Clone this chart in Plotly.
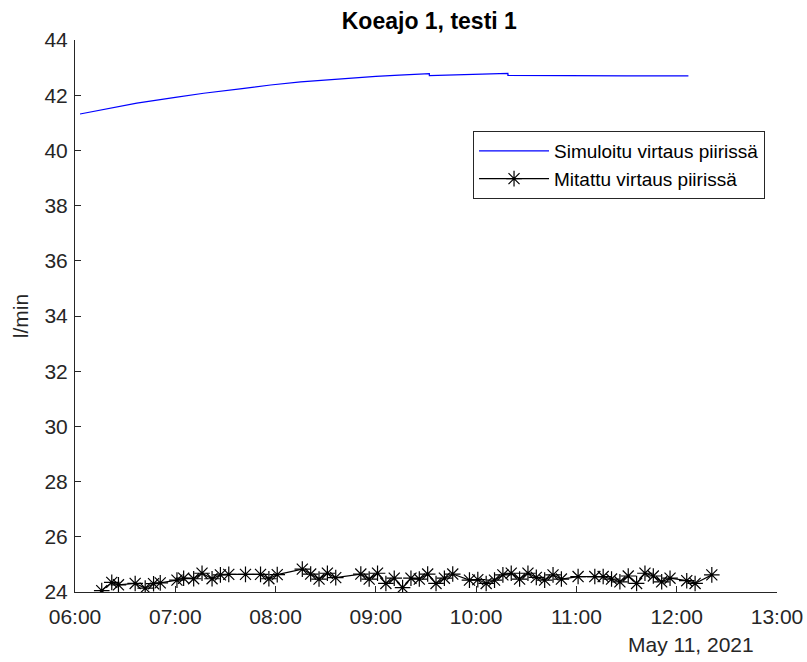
import plotly.graph_objects as go

DAY = "2021-05-11 "

# Simulated flow (blue)
sim_time = ["06:03", "06:20", "06:37", "07:00", "07:17", "07:40", "07:57", "08:15",
            "08:36", "09:00", "09:14", "09:32", "09:32", "09:50", "10:05", "10:19",
            "10:19", "10:40", "11:00", "11:30", "12:07"]
sim_vals = [41.32, 41.52, 41.71, 41.92, 42.07, 42.24, 42.37, 42.48,
            42.58, 42.68, 42.73, 42.78, 42.71, 42.74, 42.77, 42.79,
            42.72, 42.71, 42.71, 42.70, 42.70]

# Measured flow (black, asterisks)
meas_time = ["06:16", "06:22", "06:26", "06:36", "06:42", "06:47", "06:51", "07:01",
             "07:05", "07:11", "07:16", "07:22", "07:27", "07:32", "07:42", "07:51",
             "07:56", "08:01", "08:16", "08:21", "08:26", "08:31", "08:36", "08:51",
             "08:56", "09:01", "09:06", "09:11", "09:16", "09:21", "09:26", "09:31",
             "09:36", "09:41", "09:46", "09:56", "10:01", "10:06", "10:11", "10:16",
             "10:21", "10:26", "10:31", "10:36", "10:41", "10:46", "10:51", "11:01",
             "11:11", "11:16", "11:21", "11:26", "11:31", "11:36", "11:41", "11:46",
             "11:51", "11:56", "12:06", "12:11", "12:21"]
meas_vals = [24.05, 24.35, 24.26, 24.31, 24.14, 24.30, 24.33, 24.43,
             24.50, 24.48, 24.68, 24.48, 24.62, 24.64, 24.64, 24.64,
             24.48, 24.63, 24.83, 24.65, 24.47, 24.68, 24.52, 24.65,
             24.47, 24.68, 24.31, 24.50, 24.16, 24.50, 24.47, 24.65,
             24.31, 24.50, 24.65, 24.43, 24.45, 24.31, 24.43, 24.62,
             24.68, 24.47, 24.68, 24.53, 24.43, 24.62, 24.47, 24.56,
             24.56, 24.56, 24.47, 24.37, 24.58, 24.31, 24.68, 24.58,
             24.37, 24.50, 24.41, 24.31, 24.62]

x_ticks = ["06:00", "07:00", "08:00", "09:00", "10:00", "11:00", "12:00", "13:00"]

AX = "#262626"
FONT = "Liberation Sans, Arial, sans-serif"

fig = go.Figure()
fig.add_trace(go.Scatter(
    x=[DAY + t for t in sim_time], y=sim_vals, mode="lines",
    line=dict(color="#0000ff", width=1.2),
    name="Simuloitu virtaus piirissä"))
fig.add_trace(go.Scatter(
    x=[DAY + t for t in meas_time], y=meas_vals, mode="lines+markers",
    line=dict(color="black", width=1.2),
    marker=dict(symbol="asterisk-open", size=13, color="black",
                line=dict(color="black", width=1.2)),
    name="Mitattu virtaus piirissä"))

fig.update_layout(
    width=807, height=662,
    margin=dict(l=75, r=30, t=40, b=70),
    paper_bgcolor="white", plot_bgcolor="white",
    font=dict(family=FONT, size=21, color=AX),
    title=dict(text="<b>Koeajo 1, testi 1</b>", x=0.532, xanchor="center",
               y=0.968, yanchor="middle", font=dict(size=23, color="black"),
               automargin=False),
    showlegend=True,
    legend=dict(x=0.567, y=0.835, xanchor="left", yanchor="top",
                bgcolor="white", bordercolor=AX, borderwidth=1,
                font=dict(size=19, color="black"), itemwidth=70,
                tracegroupgap=0),
)
fig.update_xaxes(
    type="date",
    range=[DAY + "06:00", DAY + "13:00"],
    tickvals=[DAY + t for t in x_ticks], ticktext=x_ticks,
    ticks="inside", ticklen=6, tickcolor=AX,
    showline=True, linecolor=AX, linewidth=1, mirror=False,
    showgrid=False, zeroline=False, ticklabelstandoff=6, automargin=False,
)
fig.update_yaxes(
    range=[24, 44], dtick=2,
    ticks="inside", ticklen=6, tickcolor=AX,
    showline=True, linecolor=AX, linewidth=1, mirror=False,
    showgrid=False, zeroline=False, ticklabelstandoff=2, automargin=False,
    title=dict(text="l/min", standoff=10, font=dict(size=21, color=AX)),
)
fig.add_annotation(text="May 11, 2021", xref="paper", yref="paper",
                   x=0.970, y=-0.096, xanchor="right", yanchor="middle",
                   showarrow=False, font=dict(size=21, color=AX))

fig.write_html("out.html")
